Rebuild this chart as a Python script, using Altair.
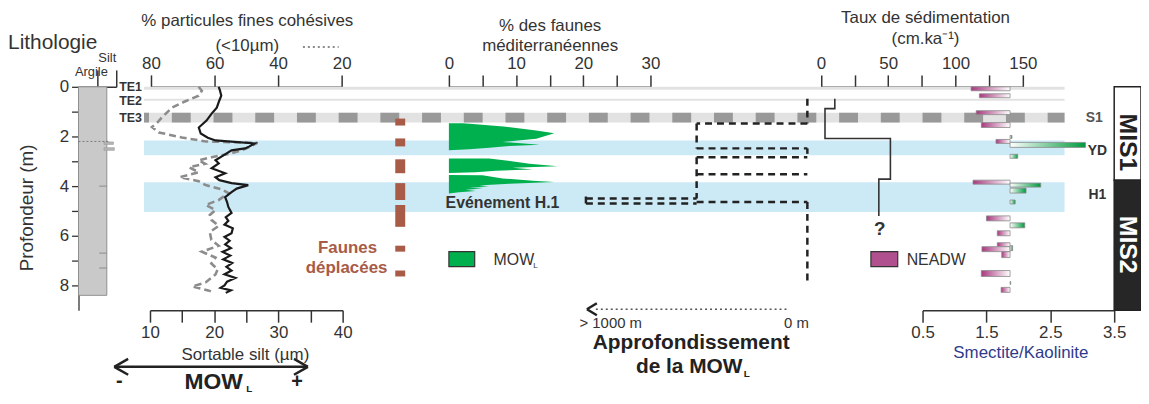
import altair as alt
import pandas as pd

# ---------------- data (depth in m) ----------------
# Lithology column
litho_top = [0.0]
litho_bottom = [8.4]
litho_grain = [1.5]
litho_bump_top = [2.22, 2.45]
litho_bump_bottom = [2.32, 2.56]
litho_bump_grain = [1.85, 1.9]
litho_mark_depth = [4.0, 6.7, 7.3]
litho_dotted_depth = [2.2]

# Sortable silt (µm)
ss_depth = [0.00, 0.15, 0.36, 0.55, 0.84, 1.08, 1.36, 1.64, 1.88, 2.05, 2.16, 2.28, 2.40, 2.48, 2.56,
            2.75, 2.96, 3.08, 3.28, 3.48, 3.64, 3.76, 3.88, 3.96, 4.10, 4.24, 4.44, 4.64, 4.84, 5.08,
            5.25, 5.40, 5.55, 5.70, 5.90, 6.05, 6.20, 6.35, 6.50, 6.65, 6.80, 6.95, 7.10, 7.25, 7.40,
            7.55, 7.70, 7.85, 8.00, 8.10, 8.20, 8.30]
ss_value = [20.7, 20.9, 21.1, 20.8, 20.4, 19.6, 18.8, 17.6, 17.9, 19.0, 20.2, 26.3, 25.5, 24.8, 22.7,
            21.5, 20.2, 20.7, 19.6, 21.7, 20.2, 20.8, 22.7, 25.3, 23.5, 22.7, 21.7, 22.0, 22.2, 22.7,
            21.8, 22.2, 21.6, 22.9, 22.7, 21.6, 22.4, 21.7, 22.6, 21.3, 22.5, 21.4, 22.8, 21.9, 22.7,
            21.6, 23.3, 22.0, 21.6, 21.0, 22.6, 21.8]

# % fine cohesive particles (<10 µm)
fines_depth = [0.00, 0.16, 0.36, 0.60, 0.84, 1.04, 1.24, 1.44, 1.62, 1.84, 2.04, 2.20, 2.26, 2.50, 2.68,
               2.84, 2.96, 3.10, 3.24, 3.44, 3.64, 3.80, 3.96, 4.12, 4.28, 4.56, 4.76, 4.96, 5.16, 5.36,
               5.60, 5.85, 6.16, 6.40, 6.64, 6.88, 7.12, 7.35, 7.56, 7.88, 8.04, 8.20, 8.30]
fines_value = [65, 64, 65, 69.5, 73.4, 75, 76.6, 78, 79.7, 77.5, 70.3, 62.8, 46.5, 50.3, 54.7,
               61, 65, 63, 68, 65, 71, 65, 62.8, 58, 55.6, 58.7, 62.8, 59.7, 61.5, 61,
               58.7, 61.5, 61, 58.7, 64, 59.7, 61, 59, 59.7, 62.8, 67, 62, 60]

# Displaced fauna intervals
faunes_top = [1.28, 2.08, 2.92, 3.88, 4.76, 6.40, 7.40]
faunes_bottom = [1.56, 2.40, 3.48, 4.56, 5.64, 6.64, 7.64]

# % Mediterranean fauna (MOW_L), three blocks
med_block = [1] * 13 + [2] * 10 + [3] * 15
med_depth = [1.465, 1.47, 1.49, 1.60, 1.76, 1.87, 2.09, 2.22, 2.33, 2.38, 2.45, 2.52, 2.56,
             2.885, 2.89, 2.97, 3.10, 3.20, 3.26, 3.33, 3.38, 3.44, 3.47,
             3.555, 3.56, 3.69, 3.78, 3.83, 3.90, 3.96, 4.00, 4.03, 4.07, 4.10, 4.15, 4.20, 4.25, 4.30]
med_value = [0, 2, 3.1, 8.1, 13, 15.7, 13, 8, 13.5, 9, 6, 3, 0,
             0, 6, 8.5, 12, 16.2, 9.5, 12.5, 7, 4, 0,
             0, 5, 8, 12.5, 15.7, 9, 5.6, 4.5, 6, 3, 5, 2.5, 4, 1.5, 0]

# MOW_L deepening path (m below the shallowest level)
mow_m1 = [0, 0, 500, 500, 0, 500, 500, 500, 1000, 1000, 1000, 500, 0]
mow_m2 = [0, 500, 500, 0, 0, 0, 500, 0, 500, 500, 1000, 0, 0]
mow_d1 = [0.48, 1.48, 1.48, 2.48, 2.48, 2.84, 2.84, 3.52, 4.50, 4.70, 4.42, 4.64, 4.64]
mow_d2 = [1.48, 1.48, 2.48, 2.48, 2.70, 2.84, 4.50, 3.52, 4.50, 4.70, 4.74, 4.64, 7.80]

# Sedimentation rate (cm/ka), step line
sr_depth = [0.48, 0.88, 0.88, 2.08, 2.08, 3.72, 3.72, 5.20]
sr_value = [10.3, 10.3, 3, 3, 51.6, 51.6, 43, 43]

# Smectite / Kaolinite bars around baseline 1.87
sk_base = 1.87
neadw_top = [0.00, 0.28, 0.96, 1.44, 2.12, 3.76, 5.20, 5.80, 6.28, 6.44, 6.64, 7.40, 8.08]
neadw_bottom = [0.16, 0.44, 1.12, 1.64, 2.28, 3.92, 5.40, 6.00, 6.44, 6.64, 6.88, 7.64, 8.28]
neadw_value = [1.26, 1.39, 1.34, 1.42, 1.65, 1.29, 1.50, 1.67, 1.67, 1.43, 1.74, 1.42, 1.73]
mow_sk_top = [1.96, 2.24, 2.72, 3.88, 4.08, 4.56, 5.48, 6.40, 7.84]
mow_sk_bottom = [2.08, 2.44, 2.88, 4.04, 4.28, 4.72, 5.68, 6.60, 7.96]
mow_sk_value = [1.90, 3.05, 1.99, 2.35, 2.12, 1.95, 2.10, 1.91, 1.88]

# Event bands
blue_top = [2.16, 3.84]
blue_bottom = [2.76, 5.04]
te_top = [0.0, 0.48, 1.04]
te_bottom = [0.12, 0.56, 1.44]
te3_mid = [1.24]
mis_top = [0.0, 3.76]
mis_bottom = [3.76, 9.0]

# ---------------- layout helpers ----------------
X0, Y0 = 79, 86
FONT = "Liberation Sans"
DARK = "#333333"
GREEN = "#00b04f"
PURPLE = "#a8387f"
BROWN = "#a85b47"


def px(x):
    return x - X0


def py(y):
    return y - Y0


ONE = pd.DataFrame({"k": [0]})

Y_SCALE = alt.Scale(domain=[0, 9], reverse=True, nice=False, zero=False)
Y_AXIS = alt.Axis(values=list(range(0, 9)), labelExpr="datum.value % 2 == 0 ? datum.label : ''",
                  tickSize=7, labelFontSize=17, labelPadding=3, title=None, grid=False,
                  domainColor=DARK, tickColor=DARK, labelColor=DARK, domainWidth=1.3, tickWidth=1.3,
                  labelFont=FONT)


def Y(field):
    return alt.Y(field, type="quantitative", scale=Y_SCALE, axis=Y_AXIS)


def xscale(domain, p0, p1):
    return alt.Scale(domain=domain, range=[px(p0), px(p1)], nice=False, zero=False)


def xaxis(orient, values, label_expr=None, tick=12, labels=True, fmt=None):
    kw = dict(orient=orient, values=values, tickSize=tick, labelFontSize=17, labelPadding=2,
              title=None, grid=False, domainColor=DARK, tickColor=DARK, labelColor=DARK,
              domainWidth=1.5, tickWidth=1.5, labelFont=FONT, labelFlush=False,
              labelOverlap=False, labels=labels)
    if label_expr:
        kw["labelExpr"] = label_expr
    if fmt:
        kw["format"] = fmt
    return alt.Axis(**kw)


def txt(s, x, y, size=16, weight="normal", color=DARK, align="center", angle=None):
    kw = dict(text=s, fontSize=size, fontWeight=weight, color=color, align=align,
              baseline="middle", font=FONT)
    if angle is not None:
        kw["angle"] = angle
    return alt.Chart(ONE).mark_text(**kw).encode(x=alt.value(px(x)), y=alt.value(py(y)))


def seg(x1, y1, x2, y2, color=DARK, width=2.0, dash=None):
    kw = dict(color=color, strokeWidth=width)
    if dash:
        kw["strokeDash"] = dash
    return alt.Chart(ONE).mark_rule(**kw).encode(
        x=alt.value(px(x1)), y=alt.value(py(y1)), x2=alt.value(px(x2)), y2=alt.value(py(y2)))


def box(x1, y1, x2, y2, fill, stroke="#333333"):
    return alt.Chart(ONE).mark_rect(fill=fill, stroke=stroke, strokeWidth=1.2).encode(
        x=alt.value(px(x1)), y=alt.value(py(y1)), x2=alt.value(px(x2)), y2=alt.value(py(y2)))


LITHO_SCALE = xscale([0, 2], 79, 117)
FINES_SCALE = xscale([80, 20], 152, 344)
SILT_SCALE = xscale([10, 40], 151, 345)
MED_SCALE = xscale([0, 30], 452, 655)
MOW_SCALE = xscale([0, 1000], 813, 590)
SED_SCALE = xscale([0, 150], 826.7, 1030)
SMEC_SCALE = xscale([0.5, 3.5], 929, 1122)

# ---------------- layers ----------------
bands = alt.Chart(pd.DataFrame({"top": blue_top, "bot": blue_bottom})).mark_rect(color="#cce9f6").encode(
    x=alt.value(px(145)), x2=alt.value(px(1072)), y=Y("top"), y2="bot")
te_bands = alt.Chart(pd.DataFrame({"top": te_top, "bot": te_bottom})).mark_rect(color="#e2e2e2").encode(
    x=alt.value(px(145)), x2=alt.value(px(1072)), y=Y("top"), y2="bot")
te_stripes = alt.Chart(pd.DataFrame({"d": te3_mid})).mark_rule(
    color="#999999", strokeWidth=10, strokeDash=[19, 23], strokeDashOffset=14).encode(
    x=alt.value(px(145)), x2=alt.value(px(1072)), y=Y("d"))

litho_col = alt.Chart(pd.DataFrame({"top": litho_top, "bot": litho_bottom, "g": litho_grain})).mark_rect(
    fill="#c9c9c9", stroke="#8f8f8f", strokeWidth=1).encode(
    x=alt.X("g", type="quantitative", scale=LITHO_SCALE, axis=xaxis("top", [1, 2], tick=17, labels=False)),
    x2=alt.datum(0), y=Y("top"), y2="bot")
litho_bumps = alt.Chart(pd.DataFrame({"top": litho_bump_top, "bot": litho_bump_bottom, "g": litho_bump_grain})).mark_rect(
    fill="#b5b5b5", stroke="#9a9a9a", strokeWidth=0.6).encode(
    x=alt.X("g", type="quantitative", scale=LITHO_SCALE, axis=None),
    x2=alt.datum(1.35), y=Y("top"), y2="bot")
litho_marks = alt.Chart(pd.DataFrame({"d": litho_mark_depth})).mark_rule(color="#8a8a8a", strokeWidth=1).encode(
    x=alt.datum(1.1, scale=LITHO_SCALE, axis=None), x2=alt.datum(1.5), y=Y("d"))
litho_dotted = alt.Chart(pd.DataFrame({"d": litho_dotted_depth})).mark_rule(
    color="#666666", strokeWidth=0.8, strokeDash=[2, 2]).encode(
    x=alt.datum(0, scale=LITHO_SCALE, axis=None), x2=alt.datum(1.6), y=Y("d"))

fines = alt.Chart(pd.DataFrame({"d": fines_depth, "v": fines_value, "i": list(range(len(fines_depth)))})).mark_line(
    color="#8c8c8c", strokeWidth=2.6, strokeDash=[7, 4]).encode(
    x=alt.X("v", type="quantitative", scale=FINES_SCALE, axis=xaxis("top", [80, 60, 40, 20])),
    y=Y("d"), order="i:Q")

silt = alt.Chart(pd.DataFrame({"d": ss_depth, "v": ss_value, "i": list(range(len(ss_depth)))})).mark_line(
    color="#1a1a1a", strokeWidth=2.2).encode(
    x=alt.X("v", type="quantitative", scale=SILT_SCALE,
            axis=xaxis("bottom", [10, 15, 20, 25, 30, 35, 40], "datum.value % 10 == 0 ? datum.label : ''")),
    y=Y("d"), order="i:Q")

faunes = alt.Chart(pd.DataFrame({"top": faunes_top, "bot": faunes_bottom})).mark_rect(color=BROWN).encode(
    x=alt.value(px(398)), x2=alt.value(px(408)), y=Y("top"), y2="bot")

med = alt.Chart(pd.DataFrame({"b": med_block, "d": med_depth, "v": med_value})).mark_area(
    orient="horizontal", color=GREEN, opacity=1).encode(
    x=alt.X("v", type="quantitative", scale=MED_SCALE, stack=None,
            axis=xaxis("top", [0, 5, 10, 15, 20, 25, 30], "datum.value % 10 == 0 ? datum.label : ''")),
    x2=alt.datum(0), y=Y("d"), detail="b:N")

mow_path = alt.Chart(pd.DataFrame({"m1": mow_m1, "m2": mow_m2, "d1": mow_d1, "d2": mow_d2})).mark_rule(
    color="#222222", strokeWidth=2.5, strokeDash=[7, 5]).encode(
    x=alt.X("m1", type="quantitative", scale=MOW_SCALE, axis=None), x2="m2", y=Y("d1"), y2="d2")

sed = alt.Chart(pd.DataFrame({"d": sr_depth, "v": sr_value, "i": list(range(len(sr_depth)))})).mark_line(
    color="#333333", strokeWidth=1.6).encode(
    x=alt.X("v", type="quantitative", scale=SED_SCALE,
            axis=xaxis("top", [0, 25, 50, 75, 100, 125, 150], "datum.value % 50 == 0 ? datum.label : ''")),
    y=Y("d"), order="i:Q")

purple_grad = alt.LinearGradient(gradient="linear", x1=0, x2=1, y1=0, y2=0,
                                 stops=[alt.GradientStop(color=PURPLE, offset=0),
                                        alt.GradientStop(color="#ffffff", offset=1)])
green_grad = alt.LinearGradient(gradient="linear", x1=0, x2=1, y1=0, y2=0,
                                stops=[alt.GradientStop(color="#ffffff", offset=0),
                                       alt.GradientStop(color="#009a3d", offset=1)])
neadw_bars = alt.Chart(pd.DataFrame({"top": neadw_top, "bot": neadw_bottom, "v": neadw_value})).mark_rect(
    fill=purple_grad, stroke="#8a8a8a", strokeWidth=0.8).encode(
    x=alt.X("v", type="quantitative", scale=SMEC_SCALE,
            axis=xaxis("bottom", [0.5, 1.5, 2.5, 3.5], fmt=".1f")),
    x2=alt.datum(sk_base), y=Y("top"), y2="bot")
mow_bars = alt.Chart(pd.DataFrame({"top": mow_sk_top, "bot": mow_sk_bottom, "v": mow_sk_value})).mark_rect(
    fill=green_grad, stroke="#8a8a8a", strokeWidth=0.8).encode(
    x=alt.X("v", type="quantitative", scale=SMEC_SCALE, axis=None),
    x2=alt.datum(sk_base), y=Y("top"), y2="bot")

mis_df = pd.DataFrame({"top": mis_top, "bot": mis_bottom, "name": ["MIS1", "MIS2"]})
mis = alt.Chart(mis_df).mark_rect(stroke="#222222", strokeWidth=1.5).encode(
    x=alt.value(px(1122)), x2=alt.value(px(1149)), y=Y("top"), y2="bot",
    fill=alt.Fill("name:N", scale=alt.Scale(domain=["MIS1", "MIS2"], range=["#ffffff", "#262626"]), legend=None))

texts = [
    txt("Lithologie", 53, 42, 21),
    txt("Silt", 108, 57, 13),
    txt("Argile", 92, 71, 13),
    txt("Profondeur (m)", 27, 208, 19, angle=270),
    txt("TE1", 120, 86, 12.5, "bold", align="left"),
    txt("TE2", 120, 100, 12.5, "bold", align="left"),
    txt("TE3", 120, 117, 12.5, "bold", align="left"),
    txt("% particules fines cohésives", 249, 20, 17),
    txt("(<10µm)", 249, 45, 17),
    txt("Sortable silt (µm)", 247, 356, 17),
    txt("Faunes", 350, 248, 17, "bold", BROWN),
    txt("déplacées", 349, 269, 17, "bold", BROWN),
    txt("% des faunes", 554, 25, 17),
    txt("méditerranéennes", 554, 45, 17),
    txt("Evénement H.1", 506, 203, 16, "bold"),
    txt("MOW", 497, 260, 16, align="left"),
    txt("L", 537, 266, 8, align="left"),
    txt("> 1000 m", 615, 324, 15),
    txt("0 m", 802, 324, 15),
    txt("Approfondissement", 696, 344, 21, "bold", "#222222"),
    txt("de la MOW", 694, 368, 21, "bold", "#222222"),
    txt("L", 749, 375, 10, "bold", "#222222", align="left"),
    txt("Taux de sédimentation", 932, 17, 17),
    txt("(cm.ka⁻¹)", 932, 38, 17),
    txt("?", 886, 229, 19, "bold"),
    txt("NEADW", 913, 260, 16, align="left"),
    txt("Smectite/Kaolinite", 1028, 354, 17, color="#2e3a8c"),
    txt("S1", 1102, 117, 14, "bold", "#555555"),
    txt("YD", 1105, 151, 14, "bold", "#333333"),
    txt("H1", 1105, 195, 14, "bold", "#333333"),
    txt("MIS1", 1136, 142, 25, "bold", "#222222", angle=90),
    txt("MIS2", 1136, 245, 25, "bold", "#ffffff", angle=90),
    txt("MOW", 215, 383, 23, "bold", "#222222"),
    txt("L", 248, 390, 10, "bold", "#222222", align="left"),
    txt("-", 120, 382, 20, "bold", "#222222"),
    txt("+", 299, 383, 20, "bold", "#222222"),
]

decor = [
    seg(305, 46, 341, 46, "#8c8c8c", 2, [2, 3]),
    seg(600, 310, 793, 310, "#555555", 1.5, [2, 3]),
    seg(591, 310, 601, 304, "#222222", 2.5),
    seg(591, 310, 601, 316, "#222222", 2.5),
    seg(115, 368, 310, 368, "#222222", 2.5),
    seg(115, 368, 129, 360, "#222222", 2.5),
    seg(115, 368, 129, 376, "#222222", 2.5),
    seg(310, 368, 296, 360, "#222222", 2.5),
    seg(310, 368, 296, 376, "#222222", 2.5),
    box(452, 252, 478, 267, GREEN),
    box(877, 252, 904, 267, "#b0508e"),
]

chart = alt.layer(
    bands, te_bands, te_stripes,
    litho_col, litho_bumps, litho_marks, litho_dotted,
    fines, silt, faunes, med, mow_path, sed,
    neadw_bars, mow_bars, mis,
    *decor, *texts
).resolve_scale(x="independent").properties(
    width=1070, height=225,
    padding={"left": 71, "top": 78, "right": 0, "bottom": 85},
    autosize=alt.AutoSizeParams(type="none"),
).configure_view(stroke=None).configure_axis(labelFont=FONT, titleFont=FONT)

chart.save("out.html", embed_options={"renderer": "svg", "actions": False})
